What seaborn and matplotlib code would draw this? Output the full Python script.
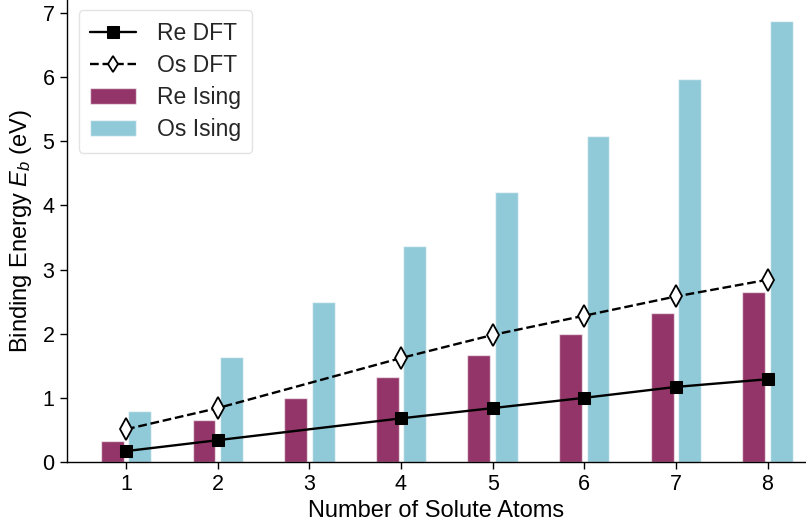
import matplotlib
matplotlib.use("Agg")
import matplotlib.pyplot as plt
import seaborn as sns
import pandas as pd

# Number of solute atoms in the cluster
atoms = [1, 2, 3, 4, 5, 6, 7, 8]

# Ising-model binding energies (eV)
re_ising = [0.33, 0.65, 0.99, 1.32, 1.66, 1.99, 2.32, 2.65]
os_ising = [0.80, 1.64, 2.49, 3.36, 4.21, 5.08, 5.97, 6.87]

# DFT binding energies (eV); no DFT value for 3 atoms
dft_atoms = [1, 2, 4, 5, 6, 7, 8]
re_dft = [0.17, 0.34, 0.68, 0.84, 1.00, 1.17, 1.29]
os_dft = [0.51, 0.84, 1.62, 1.98, 2.28, 2.58, 2.84]

sns.set_theme(style="ticks")
plt.rcParams["font.family"] = ["Liberation Sans", "DejaVu Sans"]
plt.rcParams["mathtext.fontset"] = "custom"
plt.rcParams["mathtext.it"] = "Liberation Sans:italic"
plt.rcParams["mathtext.rm"] = "Liberation Sans"

bars = pd.DataFrame({
    "atoms": atoms * 2,
    "energy": re_ising + os_ising,
    "series": ["Re Ising"] * len(atoms) + ["Os Ising"] * len(atoms),
})

fig = plt.figure(figsize=(8.06, 5.29), dpi=100)
ax = fig.add_axes([67 / 806, 67 / 529, 1 - 67 / 806, 1 - 67 / 529])

sns.barplot(data=bars, x="atoms", y="energy", hue="series",
            palette={"Re Ising": "#933568", "Os Ising": "#90c9d8"},
            saturation=1, native_scale=True, width=0.6, gap=1 / 6,
            edgecolor=(1, 1, 1, 0.6), linewidth=1.0,
            errorbar=None, ax=ax, zorder=2)

sns.lineplot(x=dft_atoms, y=re_dft, ax=ax, color="black", linewidth=1.7,
             marker="s", markersize=9, markerfacecolor="black",
             markeredgecolor="black", label="Re DFT", zorder=3)
sns.lineplot(x=dft_atoms, y=os_dft, ax=ax, color="black", linewidth=1.7,
             linestyle="--", marker="d", markersize=11,
             markerfacecolor="white", markeredgecolor="black",
             markeredgewidth=1.3, label="Os DFT", zorder=3)

ax.set_xlim(0.355, 8.42)
ax.set_ylim(0, 7.2)
ax.set_xticks(atoms)
ax.set_xticklabels([str(a) for a in atoms])
ax.set_yticks(range(0, 8))
ax.tick_params(axis="both", labelsize=15.5, length=5, width=1, color="black",
               labelcolor="black", pad=4)
for side in ("left", "bottom"):
    ax.spines[side].set_color("black")
    ax.spines[side].set_linewidth(1.0)
sns.despine(ax=ax)

ax.set_xlabel("Number of Solute Atoms", fontsize=17, color="black", labelpad=3)
ax.set_ylabel("Binding Energy $E_b$ (eV)", fontsize=17, color="black", labelpad=6)

handles, labels = ax.get_legend_handles_labels()
order = [labels.index(n) for n in ["Re DFT", "Os DFT", "Re Ising", "Os Ising"]]
leg = ax.legend([handles[i] for i in order], [labels[i] for i in order],
                loc="upper left", bbox_to_anchor=(0.016, 0.978),
                borderaxespad=0, fontsize=16.5,
                frameon=True, edgecolor="#dddddd", handlelength=2.0,
                borderpad=0.5, labelspacing=0.4, handletextpad=0.9)
for h in leg.legend_handles:
    if hasattr(h, "set_markersize"):
        h.set_markersize(8)

fig.savefig("out.png", dpi=100)
